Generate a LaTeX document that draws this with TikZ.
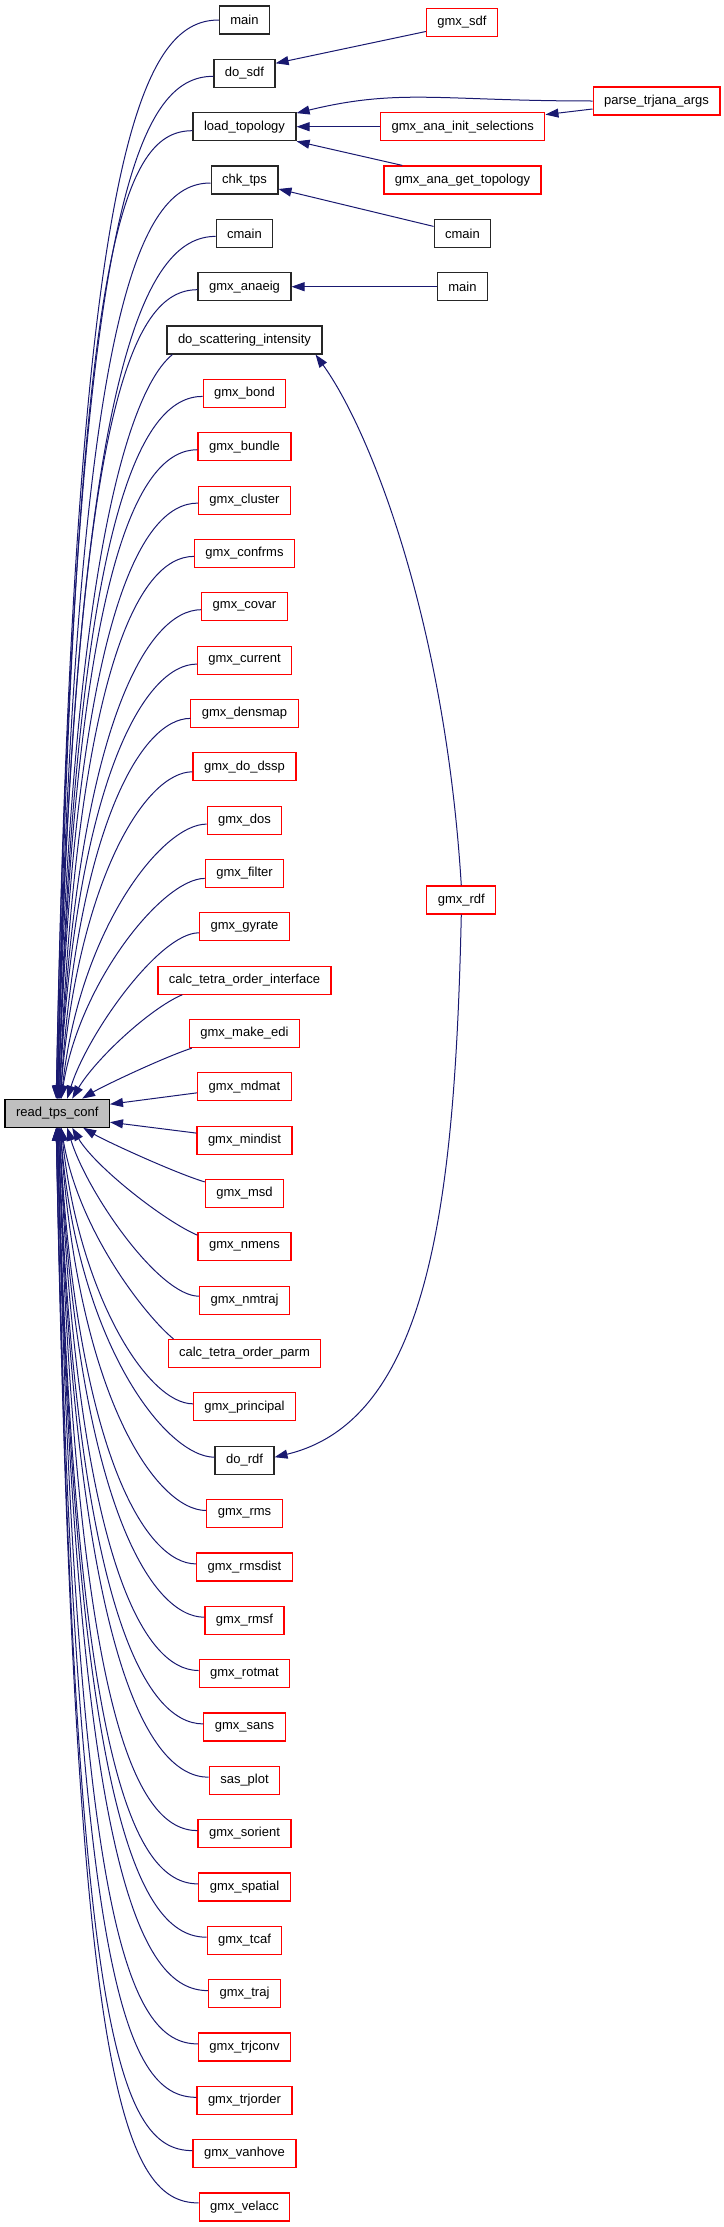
\documentclass[tikz,border=0pt]{standalone}
\usepackage{fontspec}
\setmainfont{Liberation Sans}
\usepackage{xcolor}
\usetikzlibrary{arrows.meta}

\definecolor{edgeblue}{HTML}{191970}
\definecolor{nodegrey}{HTML}{BFBFBF}

\tikzset{
  fnbox/.style={draw, line width=1.2pt, fill=white, minimum height=28pt, inner xsep=11pt, inner ysep=2pt, font=\fontsize{13}{15}\selectfont},
  blackbox/.style={fnbox, draw=black!85},
  redbox/.style={fnbox, draw=red},
  greybox/.style={fnbox, draw=black, fill=nodegrey},
  call/.style={draw=edgeblue, line width=1pt, -{Triangle[length=13pt,width=9pt]}},
}

\begin{document}
\begin{tikzpicture}[x=1pt, y=-1pt]
  \useasboundingbox (0,0) rectangle (723,2227);

  % the function itself
  \node[greybox] (readtps) at (57.2,1113.2) {read\_tps\_conf};

  % direct callers
  \node[blackbox] (mainA) at (244.5,20.0) {main};
  \node[blackbox] (dosdf) at (244.5,73.3) {do\_sdf};
  \node[blackbox] (loadtop) at (244.5,126.7) {load\_topology};
  \node[blackbox] (chktps) at (244.5,180.0) {chk\_tps};
  \node[blackbox] (cmainA) at (244.5,233.4) {cmain};
  \node[blackbox] (anaeig) at (244.5,286.7) {gmx\_anaeig};
  \node[blackbox] (doscat) at (244.5,340.0) {do\_scattering\_intensity};
  \node[redbox] (bond) at (244.5,393.4) {gmx\_bond};
  \node[redbox] (bundle) at (244.5,446.7) {gmx\_bundle};
  \node[redbox] (cluster) at (244.5,500.1) {gmx\_cluster};
  \node[redbox] (confrms) at (244.5,553.4) {gmx\_confrms};
  \node[redbox] (covar) at (244.5,606.7) {gmx\_covar};
  \node[redbox] (current) at (244.5,660.1) {gmx\_current};
  \node[redbox] (densmap) at (244.5,713.4) {gmx\_densmap};
  \node[redbox] (dodssp) at (244.5,766.8) {gmx\_do\_dssp};
  \node[redbox] (dos) at (244.5,820.1) {gmx\_dos};
  \node[redbox] (filter) at (244.5,873.4) {gmx\_filter};
  \node[redbox] (gyrate) at (244.5,926.8) {gmx\_gyrate};
  \node[redbox] (tetrainter) at (244.5,980.1) {calc\_tetra\_order\_interface};
  \node[redbox] (makeedi) at (244.5,1033.5) {gmx\_make\_edi};
  \node[redbox] (mdmat) at (244.5,1086.8) {gmx\_mdmat};
  \node[redbox] (mindist) at (244.5,1140.1) {gmx\_mindist};
  \node[redbox] (msd) at (244.5,1193.5) {gmx\_msd};
  \node[redbox] (nmens) at (244.5,1246.8) {gmx\_nmens};
  \node[redbox] (nmtraj) at (244.5,1300.2) {gmx\_nmtraj};
  \node[redbox] (tetraparm) at (244.5,1353.5) {calc\_tetra\_order\_parm};
  \node[redbox] (principal) at (244.5,1406.8) {gmx\_principal};
  \node[blackbox] (dordf) at (244.5,1460.2) {do\_rdf};
  \node[redbox] (rms) at (244.5,1513.5) {gmx\_rms};
  \node[redbox] (rmsdist) at (244.5,1566.9) {gmx\_rmsdist};
  \node[redbox] (rmsf) at (244.5,1620.2) {gmx\_rmsf};
  \node[redbox] (rotmat) at (244.5,1673.5) {gmx\_rotmat};
  \node[redbox] (sans) at (244.5,1726.9) {gmx\_sans};
  \node[redbox] (sasplot) at (244.5,1780.2) {sas\_plot};
  \node[redbox] (sorient) at (244.5,1833.6) {gmx\_sorient};
  \node[redbox] (spatial) at (244.5,1886.9) {gmx\_spatial};
  \node[redbox] (tcaf) at (244.5,1940.2) {gmx\_tcaf};
  \node[redbox] (traj) at (244.5,1993.6) {gmx\_traj};
  \node[redbox] (trjconv) at (244.5,2046.9) {gmx\_trjconv};
  \node[redbox] (trjorder) at (244.5,2100.3) {gmx\_trjorder};
  \node[redbox] (vanhove) at (244.5,2153.6) {gmx\_vanhove};
  \node[redbox] (velacc) at (244.5,2206.9) {gmx\_velacc};

  % second level callers
  \node[redbox] (gmxsdf) at (462,22.5) {gmx\_sdf};
  \node[redbox] (parse) at (656.5,101) {parse\_trjana\_args};
  \node[redbox] (initsel) at (462.7,126.7) {gmx\_ana\_init\_selections};
  \node[redbox] (gettop) at (462.5,180) {gmx\_ana\_get\_topology};
  \node[blackbox] (cmainB) at (462.5,233.4) {cmain};
  \node[blackbox] (mainB) at (462.5,286.7) {main};
  \node[redbox] (gmxrdf) at (461.3,900) {gmx\_rdf};

  % calls from above
  \draw[call] (mainA.west) .. controls +(-78,0) and +(18,-948) .. ([xshift=-1pt]readtps.north);
  \draw[call] ([yshift=-3pt]dosdf.west) .. controls +(-76,0) and +(18,-894) .. ([xshift=-1pt]readtps.north);
  \draw[call] ([yshift=-4pt]loadtop.west) .. controls +(-73,0) and +(18,-842) .. (readtps.north);
  \draw[call] ([yshift=-3pt]chktps.west) .. controls +(-71,0) and +(18,-791) .. (readtps.north);
  \draw[call] ([yshift=-3pt]cmainA.west) .. controls +(-69,0) and +(18,-739) .. (readtps.north);
  \draw[call] ([yshift=-3pt]anaeig.west) .. controls +(-67,0) and +(18,-687) .. (readtps.north);
  \draw[call] ([xshift=6pt]doscat.south west) .. controls +(-25,20) and +(18,-624) .. (readtps.north);
  \draw[call] ([yshift=-3pt]bond.west) .. controls +(-62,0) and +(18,-583) .. ([xshift=1pt]readtps.north);
  \draw[call] ([yshift=-3pt]bundle.west) .. controls +(-60,0) and +(18,-531) .. ([xshift=1pt]readtps.north);
  \draw[call] ([yshift=-3pt]cluster.west) .. controls +(-58,0) and +(18,-479) .. ([xshift=1pt]readtps.north);
  \draw[call] ([yshift=-3pt]confrms.west) .. controls +(-56,0) and +(18,-427) .. ([xshift=2pt]readtps.north);
  \draw[call] ([yshift=-3pt]covar.west) .. controls +(-53,0) and +(18,-376) .. ([xshift=2pt]readtps.north);
  \draw[call] ([yshift=-4pt]current.west) .. controls +(-51,0) and +(18,-324) .. ([xshift=2pt]readtps.north);
  \draw[call] ([yshift=-5pt]densmap.west) .. controls +(-49,0) and +(18,-272) .. ([xshift=3pt]readtps.north);
  \draw[call] ([yshift=-5pt]dodssp.west) .. controls +(-47,0) and +(18,-220) .. ([xshift=3pt]readtps.north);
  \draw[call] ([yshift=-4pt]dos.west) .. controls +(-45,0) and +(18,-168) .. ([xshift=4pt]readtps.north);
  \draw[call] ([yshift=-5pt]filter.west) .. controls +(-42,0) and +(18,-116) .. ([xshift=4pt]readtps.north);
  \draw[call] ([yshift=-6pt]gyrate.west) .. controls +(-40,0) and +(20,-64) .. ([xshift=10pt]readtps.north);
  \draw[call] ([xshift=25pt]tetrainter.south west) .. controls +(-33,14) and +(23,-39) .. ([xshift=15pt]readtps.north);
  \draw[call] ([xshift=3pt]makeedi.south west) .. controls +(-30,10) and +(20,-12) .. ([xshift=25pt]readtps.north);

  % calls from the side
  \draw[call] ([yshift=-6pt]mdmat.west) -- ([yshift=9pt]readtps.east);
  \draw[call] ([yshift=7pt]mindist.west) -- ([yshift=-9pt]readtps.east);

  % calls from below
  \draw[call] ([yshift=-3pt]msd.north west) .. controls +(-30,-9) and +(22,13) .. ([xshift=26pt]readtps.south);
  \draw[call] ([yshift=-3pt]nmens.north west) .. controls +(-33,-14) and +(23,39) .. ([xshift=15pt]readtps.south);
  \draw[call] ([yshift=4pt]nmtraj.west) .. controls +(-40,0) and +(20,65) .. ([xshift=10pt]readtps.south);
  \draw[call] ([xshift=6pt]tetraparm.north west) .. controls +(-25,-20) and +(18,106) .. ([xshift=4pt]readtps.south);
  \draw[call] ([yshift=3pt]principal.west) .. controls +(-45,0) and +(18,168) .. ([xshift=4pt]readtps.south);
  \draw[call] ([yshift=3pt]dordf.west) .. controls +(-47,0) and +(18,220) .. ([xshift=3pt]readtps.south);
  \draw[call] ([yshift=3pt]rms.west) .. controls +(-49,0) and +(18,272) .. ([xshift=3pt]readtps.south);
  \draw[call] ([yshift=3pt]rmsdist.west) .. controls +(-51,0) and +(18,324) .. ([xshift=2pt]readtps.south);
  \draw[call] ([yshift=3pt]rmsf.west) .. controls +(-53,0) and +(18,376) .. ([xshift=2pt]readtps.south);
  \draw[call] ([yshift=3pt]rotmat.west) .. controls +(-56,0) and +(18,428) .. ([xshift=2pt]readtps.south);
  \draw[call] ([yshift=3pt]sans.west) .. controls +(-58,0) and +(18,480) .. ([xshift=1pt]readtps.south);
  \draw[call] ([yshift=3pt]sasplot.west) .. controls +(-60,0) and +(18,532) .. ([xshift=1pt]readtps.south);
  \draw[call] ([yshift=3pt]sorient.west) .. controls +(-62,0) and +(18,584) .. ([xshift=1pt]readtps.south);
  \draw[call] ([yshift=3pt]spatial.west) .. controls +(-65,0) and +(18,635) .. (readtps.south);
  \draw[call] ([yshift=3pt]tcaf.west) .. controls +(-67,0) and +(18,687) .. (readtps.south);
  \draw[call] ([yshift=3pt]traj.west) .. controls +(-69,0) and +(18,739) .. (readtps.south);
  \draw[call] ([yshift=3pt]trjconv.west) .. controls +(-71,0) and +(18,791) .. (readtps.south);
  \draw[call] ([yshift=3pt]trjorder.west) .. controls +(-73,0) and +(18,843) .. ([xshift=-1pt]readtps.south);
  \draw[call] ([yshift=3pt]vanhove.west) .. controls +(-76,0) and +(18,895) .. ([xshift=-1pt]readtps.south);
  \draw[call] ([yshift=4pt]velacc.west) .. controls +(-78,0) and +(18,947) .. ([xshift=-1pt]readtps.south);

  % second level calls
  \draw[call] ([yshift=-9pt]gmxsdf.west) -- ([yshift=10pt]dosdf.east);
  \draw[call] (parse.west) .. controls (440,101) and (400,88) .. ([yshift=-1pt]loadtop.north east);
  \draw[call] ([yshift=-8pt]parse.west) -- ([yshift=-2.5pt]initsel.north east);
  \draw[call] (initsel.west) -- (loadtop.east);
  \draw[call] ([xshift=19pt]gettop.north west) -- (loadtop.south east);
  \draw[call] ([yshift=7pt]cmainB.west) -- ([yshift=-9pt]chktps.east);
  \draw[call] (mainB.west) -- (anaeig.east);
  \draw[call] (gmxrdf.north) .. controls (445,620) and (370,430) .. ([xshift=-7pt]doscat.south east);
  \draw[call] (gmxrdf.south) .. controls (455,1200) and (430,1420) .. ([yshift=3pt]dordf.east);
\end{tikzpicture}
\end{document}
